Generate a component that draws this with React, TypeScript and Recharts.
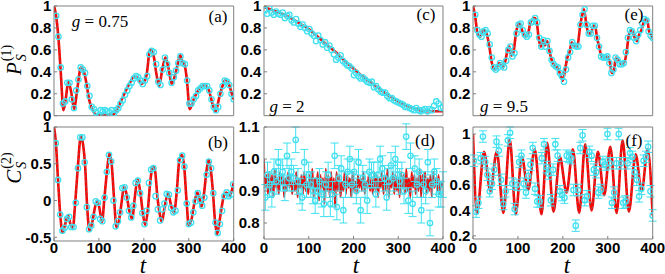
import React from 'react';
import { ComposedChart, Line, Scatter, XAxis, YAxis, ErrorBar } from 'recharts';

const RED = '#ff0000';
const CYAN = '#40e0f0';
const FRAME = '#808080';
const SERIF = '"Liberation Serif", "Times New Roman", serif';
const SANS = '"Liberation Sans", Arial, sans-serif';

const T_TICKS = [0, 100, 200, 300, 400];

// ---- panel (a): P_S^(1), g = 0.75 ----
const pointsA = [0.91,0.72,0.44,0.11,0.13,0.30,0.30,0.15,0.07,0.23,
0.33,0.44,0.42,0.39,0.27,0.18,0.08,0.06,0.03,0.00,
0.05,0.04,0.05,0.04,0.03,0.05,0.02,0.05,0.07,0.11,
0.14,0.19,0.23,0.27,0.30,0.34,0.36,0.35,0.32,0.29,
0.32,0.36,0.56,0.59,0.58,0.47,0.31,0.28,0.42,0.53,
0.47,0.39,0.30,0.35,0.41,0.48,0.54,0.48,0.47,0.32,
0.11,0.11,0.15,0.18,0.23,0.25,0.27,0.27,0.27,0.23,
0.15,0.08,0.05,0.08,0.20,0.27,0.32,0.31,0.28,0.20,
0.15];
const lineA: [number, number][] = [[0,1.0],[5,0.90],[10,0.70],[15,0.40],[21,0.05],[26,0.15],[32,0.31],[38,0.22],[45,0.06],[52,0.25],[60,0.44],[66,0.41],[72,0.30],[78,0.15],[86,0.05],[95,0.01],[115,0.01],[130,0.01],[140,0.05],[150,0.14],[165,0.27],[180,0.36],[187,0.34],[195,0.29],[201,0.31],[206,0.37],[214,0.60],[221,0.56],[228,0.38],[234,0.27],[241,0.42],[248,0.53],[255,0.43],[262,0.29],[272,0.41],[281,0.55],[286,0.49],[291,0.46],[296,0.32],[302,0.06],[311,0.15],[321,0.23],[335,0.28],[345,0.23],[352,0.12],[360,0.04],[368,0.17],[375,0.27],[382,0.33],[390,0.28],[396,0.20],[400,0.15]];

// ---- panel (b): C_S^(2), g = 0.75 ----
const pointsB = [0.78,0.28,-0.19,-0.41,-0.37,-0.25,-0.22,-0.36,-0.36,-0.03,
0.44,0.86,0.86,0.52,-0.09,-0.39,-0.34,-0.22,-0.01,-0.03,
-0.25,-0.28,0.04,0.39,0.62,0.53,0.00,-0.35,-0.28,-0.16,
0.17,0.18,0.04,-0.14,-0.23,-0.07,0.24,0.27,0.10,-0.17,
-0.32,-0.14,0.24,0.42,0.44,0.06,-0.12,-0.27,-0.12,-0.04,
0.09,0.08,-0.10,-0.16,-0.14,0.14,0.55,0.61,0.46,-0.04,
-0.32,-0.30,-0.16,-0.01,0.10,0.01,-0.07,0.04,0.35,0.53,
0.44,0.10,-0.30,-0.44,-0.32,-0.14,0.06,0.11,0.06,0.08,
0.22];
const lineB: [number, number][] = [[0,1.0],[4,0.80],[9,0.28],[14,-0.2],[19,-0.43],[25,-0.32],[31,-0.2],[37,-0.33],[42,-0.37],[47,-0.05],[53,0.45],[60,0.88],[65,0.75],[69,0.50],[74,-0.1],[79,-0.41],[85,-0.3],[91,-0.1],[96,0.0],[101,-0.1],[107,-0.29],[112,0.02],[118,0.40],[123,0.64],[128,0.52],[134,0.0],[139,-0.36],[145,-0.26],[150,-0.05],[156,0.19],[161,0.1],[167,-0.12],[174,-0.25],[180,0.05],[186,0.29],[192,0.12],[198,-0.18],[203,-0.33],[209,-0.12],[214,0.24],[220,0.46],[225,0.40],[230,0.06],[236,-0.2],[240,-0.29],[246,-0.1],[254,0.11],[260,-0.05],[267,-0.17],[273,0.1],[279,0.55],[285,0.62],[290,0.45],[295,0.0],[300,-0.34],[306,-0.26],[312,-0.05],[319,0.11],[323,0.05],[328,-0.08],[334,0.1],[339,0.38],[344,0.55],[349,0.42],[354,0.1],[358,-0.25],[363,-0.46],[368,-0.3],[373,-0.1],[379,0.08],[384,0.11],[390,0.06],[395,0.12],[400,0.24]];

// ---- panel (c): P_S^(1), g = 2 ----
const pointsC = [0.96,0.93,0.98,0.94,0.92,0.95,0.93,0.92,0.94,0.89,
0.91,0.92,0.87,0.85,0.88,0.84,0.81,0.83,0.80,0.77,
0.79,0.75,0.73,0.68,0.73,0.69,0.65,0.67,0.62,0.64,
0.60,0.56,0.51,0.53,0.55,0.50,0.48,0.46,0.45,0.43,
0.37,0.39,0.36,0.34,0.35,0.33,0.31,0.30,0.31,0.26,
0.27,0.24,0.22,0.21,0.21,0.18,0.16,0.16,0.14,0.13,
0.12,0.11,0.10,0.08,0.08,0.07,0.06,0.05,0.07,0.05,
0.04,0.05,0.06,0.04,0.06,0.05,0.09,0.13,0.11,0.07,
0.08];
const lineC: [number, number][] = [[0,0.99],[20,0.96],[40,0.93],[60,0.89],[80,0.84],[100,0.79],[120,0.72],[140,0.65],[160,0.58],[180,0.50],[200,0.43],[220,0.36],[240,0.30],[260,0.24],[280,0.18],[300,0.13],[320,0.09],[340,0.06],[360,0.04],[380,0.04],[400,0.04]];

// ---- panel (d): C_S^(2), g = 2 ----
const pointsD = [0.88,0.95,0.92,0.89,0.96,0.93,0.99,0.94,0.96,0.91,
1.01,0.94,0.96,0.94,1.06,0.93,0.90,0.88,0.99,0.92,
0.95,0.92,0.90,0.87,0.90,0.93,0.89,0.86,0.92,0.95,
0.86,0.89,1.01,0.85,0.94,0.97,0.84,0.92,0.96,1.00,
0.92,0.96,0.90,0.99,0.84,0.94,0.92,0.87,0.96,0.95,
0.95,0.89,0.95,1.00,0.97,0.94,0.88,0.93,0.98,0.94,
1.00,0.95,0.93,0.95,0.90,1.07,0.87,1.01,0.86,0.97,
0.92,0.96,0.84,0.92,0.90,0.99,0.80,0.92,0.96,0.93,
0.89,0.89,0.92];
const errD = 0.04;
const lineDvals = [1.0,0.91,0.95,0.89,0.96,0.90,0.95,0.88,0.97,0.91,0.94,0.89,0.96,0.92,0.95,0.88,0.94,0.90,0.96,0.91,
0.95,0.89,0.93,0.90,0.96,0.88,0.94,0.91,0.95,0.89,
0.96,0.90,0.93,0.89,0.95,0.91,0.97,0.88,0.94,0.90,
0.96,0.87,0.95,0.91,0.94,0.86,0.97,0.90,0.95,0.88,
0.96,0.89,0.94,0.85,0.96,0.90,0.95,0.88,0.93,0.90,
0.96,0.89,0.95,0.91,0.94,0.88,0.96,0.90,0.93,0.89,
0.95,0.91,0.94,0.90,0.96,0.89,0.93,0.91,0.95,0.90,
0.94,0.89,0.96,0.90,0.95,0.88,0.94,0.91,0.96,0.89,
0.95,0.90,0.97,0.88,0.94,0.91,0.96,0.89,0.95,0.90,
0.94,0.88,0.96,0.91,0.95,0.89,0.97,0.90,0.94,0.88,
0.96,0.91,0.95,0.89,0.94,0.90,0.97,0.88,0.95,0.91,
0.96,0.89,0.94,0.90,0.95,0.88,0.96,0.91,0.94,0.90,
0.95,0.89,0.93,0.91];
const lineDstep = 3;

// ---- panel (e): P_S^(1), g = 9.5 ----
const pointsE = [0.92,0.78,0.74,0.72,0.77,0.78,0.75,0.65,0.53,0.44,
0.42,0.44,0.48,0.46,0.44,0.50,0.60,0.63,0.54,0.57,
0.75,0.83,0.84,0.78,0.74,0.72,0.74,0.85,0.86,0.89,
0.85,0.71,0.63,0.69,0.63,0.68,0.59,0.51,0.47,0.45,
0.44,0.39,0.36,0.31,0.42,0.53,0.58,0.67,0.64,0.63,
0.63,0.83,0.92,0.97,0.83,0.75,0.75,0.82,0.82,0.71,
0.63,0.54,0.53,0.53,0.54,0.48,0.39,0.42,0.53,0.51,
0.47,0.47,0.48,0.58,0.71,0.78,0.77,0.71,0.68,0.74,
0.78,0.84,0.88,0.87,0.77,0.73,0.71];
const lineE: [number, number][] = [[0,1],[5,0.9],[10,0.75],[16,0.72],[23,0.78],[28,0.77],[31,0.74],[36,0.64],[42,0.48],[48,0.42],[53,0.44],[58,0.48],[62,0.46],[67,0.44],[72,0.50],[77,0.60],[81,0.63],[85,0.55],[90,0.58],[96,0.76],[102,0.84],[104,0.84],[110,0.77],[117,0.72],[122,0.74],[128,0.85],[137,0.89],[142,0.85],[146,0.71],[151,0.63],[156,0.69],[160,0.64],[165,0.68],[170,0.59],[175,0.51],[183,0.45],[188,0.44],[193,0.39],[200,0.32],[205,0.42],[210,0.53],[215,0.58],[220,0.67],[224,0.64],[232,0.63],[239,0.83],[247,0.97],[252,0.84],[257,0.75],[262,0.75],[268,0.82],[272,0.82],[276,0.71],[281,0.63],[286,0.54],[295,0.53],[300,0.54],[305,0.48],[309,0.39],[314,0.42],[318,0.53],[323,0.51],[330,0.47],[336,0.48],[342,0.58],[346,0.71],[351,0.78],[355,0.77],[360,0.71],[365,0.68],[370,0.74],[375,0.78],[379,0.84],[384,0.88],[388,0.87],[392,0.77],[397,0.73],[400,0.70]];

// ---- panel (f): C_S^(2), g = 9.5 ----
const pointsF = [0.79,0.39,0.46,0.81,0.98,0.78,0.68,0.55,0.61,0.72,
0.94,0.87,0.64,0.45,0.55,0.95,1.01,0.61,0.41,0.60,
0.78,0.83,0.61,0.54,0.67,0.76,0.89,0.57,0.47,0.47,
0.81,0.92,0.74,0.69,0.48,0.72,0.92,0.83,0.55,0.52,
0.50,0.83,0.82,0.81,0.56,0.28,0.56,0.89,0.99,0.48,
0.51,0.86,0.83,0.72,0.70,0.54,0.56,0.78,0.76,1.00,
0.77,0.46,0.54,0.77,1.00,0.77,0.46,0.47,0.77,0.85,
0.82,0.70,0.64,0.51,0.57,0.79,0.82,0.90,0.55,0.36];
const errF = 0.045;
const lineF: [number, number][] = [[0,1.0],[9,0.38],[24.5,0.86],[38.7,0.55],[52.8,0.86],[67.7,0.38],[81.8,0.96],[95.2,0.37],[108.6,0.82],[122.7,0.56],[137.5,0.88],[152.4,0.37],[165.1,0.93],[179.2,0.39],[193.3,0.82],[208.2,0.54],[222.3,0.88],[236.4,0.38],[249.8,0.92],[264,0.40],[278,0.86],[292,0.52],[305.6,0.90],[319.7,0.38],[333,0.95],[347,0.39],[362,0.84],[375.5,0.55],[388.9,0.88],[400,0.36]];

// evenly spaced sampling times of the measured points
function times(n: number, t0: number, t1: number): number[] {
  const out: number[] = [];
  for (let i = 0; i < n; i++) out.push(+(t0 + ((t1 - t0) * i) / (n - 1)).toFixed(2));
  return out;
}

function toPts(vals: number[], t0: number, t1: number, err?: number) {
  const ts = times(vals.length, t0, t1);
  return vals.map((v, i) => ({ t: ts[i], v, e: err ?? 0 }));
}
function toLine(arr: [number, number][]) {
  return arr.map(([t, v]) => ({ t, v }));
}

const lineDData = lineDvals.map((v, i) => ({ t: i * lineDstep, v }));

const Circ = (p: any) => {
  if (p.cx == null || p.cy == null) return <g />;
  return <circle cx={p.cx} cy={p.cy} r={2.7} fill="none" stroke={CYAN} strokeWidth={1.3} />;
};

type PanelProps = {
  left: number; top: number; w: number; h: number;
  domain: [number, number]; yTicks: number[]; fmt?: (v: number) => string;
  showX: boolean; line: { t: number; v: number }[]; pts: { t: number; v: number; e: number }[];
  err: boolean; lw?: number; yMargin?: number; xMargin?: number;
};

const TICK_STYLE = { fill: '#000', fontSize: 15, fontWeight: 'bold', fontFamily: SANS };

function Panel(p: PanelProps) {
  const W = 40;
  const HX = p.showX ? 26 : 4;
  return (
    <div style={{ position: 'absolute', left: p.left - W, top: p.top - 1 }}>
      <ComposedChart width={W + p.w + 1} height={1 + p.h + HX} margin={{ top: 0, right: 0, bottom: 0, left: 0 }}>
        <XAxis xAxisId="b" dataKey="t" type="number" domain={[0, 400]} ticks={T_TICKS} allowDataOverflow interval={0}
          tickSize={-3} tickMargin={p.xMargin ?? 4.5} height={HX}
          tick={p.showX ? TICK_STYLE : false} axisLine={{ stroke: FRAME }} tickLine={{ stroke: FRAME }} />
        <XAxis xAxisId="top" orientation="top" dataKey="t" type="number" domain={[0, 400]} ticks={T_TICKS} allowDataOverflow interval={0}
          tickSize={-3} height={1} tick={false} axisLine={{ stroke: FRAME }} tickLine={{ stroke: FRAME }} />
        <YAxis yAxisId="l" type="number" domain={p.domain} ticks={p.yTicks} allowDataOverflow interval={0}
          tickSize={-3} tickMargin={p.yMargin ?? 5.6} width={W} tick={TICK_STYLE}
          tickFormatter={p.fmt ?? ((v: number) => String(v))}
          axisLine={{ stroke: FRAME }} tickLine={{ stroke: FRAME }} />
        <YAxis yAxisId="r" orientation="right" type="number" domain={p.domain} ticks={p.yTicks} allowDataOverflow interval={0}
          tickSize={-3} width={1} tick={false} axisLine={{ stroke: FRAME }} tickLine={{ stroke: FRAME }} />
        <Line xAxisId="b" yAxisId="l" data={p.line} dataKey="v" type="monotone" stroke={RED} strokeWidth={p.lw ?? 2.6}
          dot={false} activeDot={false} isAnimationActive={false} />
        <Line xAxisId="b" yAxisId="l" data={p.line} dataKey="v" type="monotone" stroke="#707070" strokeWidth={0.8}
          strokeDasharray="2 3" dot={false} activeDot={false} isAnimationActive={false} />
        <Scatter xAxisId="b" yAxisId="l" data={p.pts} dataKey="v" shape={Circ} isAnimationActive={false}>
          {p.err ? <ErrorBar dataKey="e" direction="y" width={4} stroke={CYAN} strokeWidth={1} /> : null}
        </Scatter>
      </ComposedChart>
    </div>
  );
}

function Txt({ x, y, children, size = 17, italic = false, lh = 1 }: any) {
  return (
    <div style={{ position: 'absolute', left: x, top: y, transform: 'translate(-50%,-50%)', fontFamily: SERIF,
      fontSize: size, fontStyle: italic ? 'italic' : 'normal', whiteSpace: 'nowrap', lineHeight: lh, color: '#000' }}>
      {children}
    </div>
  );
}

function YLab({ x, y, letter, sup }: { x: number; y: number; letter: string; sup: string }) {
  return (
    <div style={{ position: 'absolute', left: x, top: y, transform: 'translate(-50%,-50%) rotate(-90deg)',
      fontFamily: SERIF, whiteSpace: 'nowrap', lineHeight: 1, display: 'flex', alignItems: 'center', color: '#000' }}>
      <span style={{ fontStyle: 'italic', fontSize: 21 }}>{letter}</span>
      <span style={{ display: 'inline-flex', flexDirection: 'column', fontSize: 14, lineHeight: 1.05, marginLeft: 1 }}>
        <span>{sup}</span>
        <span style={{ fontStyle: 'italic' }}>S</span>
      </span>
    </div>
  );
}

export default function App() {
  const Y01 = [0, 0.2, 0.4, 0.6, 0.8, 1];
  const Y02 = [0.2, 0.4, 0.6, 0.8, 1];
  return (
    <div style={{ position: 'absolute', left: 0, top: 0, width: 665, height: 274, background: '#fff', overflow: 'hidden' }}>
      <style>{`.recharts-surface{overflow:visible}.recharts-wrapper{overflow:visible}`}</style>
      <Panel left={54.3} top={5.8} w={179.7} h={109.7} domain={[0, 1]} yTicks={Y01} showX={false}
        line={toLine(lineA)} pts={toPts(pointsA, 5, 400)} err={false} />
      <Panel left={54.3} top={127} w={179.7} h={114} domain={[-0.55, 1]} yTicks={[-0.5, 0, 0.5, 1]} showX={true}
        line={toLine(lineB)} pts={toPts(pointsB, 4, 399)} err={false} xMargin={4.4} />
      <Panel left={264.3} top={5.8} w={179} h={109.7} domain={[0, 1]} yTicks={Y02} showX={false}
        line={toLine(lineC)} pts={toPts(pointsC, 2, 400)} err={false} />
      <Panel left={264.3} top={127} w={179} h={112} domain={[0.75, 1.1]} yTicks={[0.8, 0.9, 1.0, 1.1]}
        fmt={(v: number) => v.toFixed(1)} showX={true} line={lineDData} pts={toPts(pointsD, 3, 400, errD)} err={true}
        lw={1.8} yMargin={7.5} xMargin={6.4} />
      <Panel left={473.3} top={5.8} w={179.7} h={109.7} domain={[0, 1]} yTicks={Y02} showX={false}
        line={toLine(lineE)} pts={toPts(pointsE, 5, 400)} err={false} />
      <Panel left={473.3} top={127} w={179.7} h={112} domain={[0.175, 1.055]} yTicks={Y02} showX={true}
        line={toLine(lineF)} pts={toPts(pointsF, 2, 400, errF)} err={true} xMargin={6.4} />

      <Txt x={218} y={16}>(a)</Txt>
      <Txt x={218} y={142}>(b)</Txt>
      <Txt x={426} y={14}>(c)</Txt>
      <Txt x={425} y={140}>(d)</Txt>
      <Txt x={634} y={14}>(e)</Txt>
      <Txt x={634} y={140}>(f)</Txt>

      <Txt x={100} y={21}><i>g</i> = 0.75</Txt>
      <Txt x={287} y={106}><i>g</i> = 2</Txt>
      <Txt x={504} y={106}><i>g</i> = 9.5</Txt>

      <YLab x={15} y={60} letter="P" sup="(1)" />
      <YLab x={15} y={168} letter="C" sup="(2)" />

      <Txt x={143} y={265.5} size={23} italic lh="14px">t</Txt>
      <Txt x={356} y={265.5} size={23} italic lh="14px">t</Txt>
      <Txt x={567} y={265.5} size={23} italic lh="14px">t</Txt>
    </div>
  );
}
